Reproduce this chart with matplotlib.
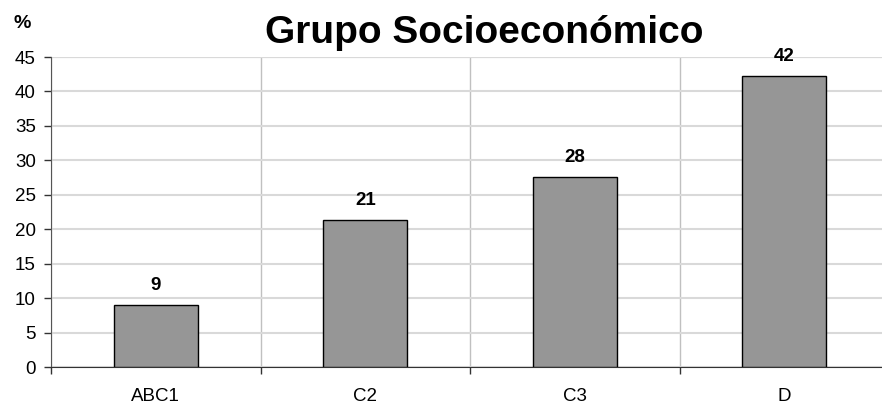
import matplotlib.pyplot as plt
import numpy as np

plt.rcParams['font.family'] = ['Liberation Sans', 'DejaVu Sans']

categories = ['ABC1', 'C2', 'C3', 'D']
values = [9.0, 21.3, 27.6, 42.2]
labels = ['9', '21', '28', '42']

W, H = 882, 407
fig = plt.figure(figsize=(W / 100, H / 100), dpi=100)
# plot area: left 51px, right 889px (slightly beyond the image), top 57, bottom 367
ax = fig.add_axes([51 / W, (H - 367) / H, (889 - 51) / W, (367 - 57) / H])

x = np.arange(len(categories))
ax.bar(x, values, width=0.4, color='#969696', edgecolor='black', linewidth=1, zorder=3)

for xi, v, lab in zip(x, values, labels):
    ax.text(xi, v + 1.6, lab, ha='center', va='bottom', fontsize=13.5, fontweight='bold')

ax.set_xlim(-0.5, 3.5)
ax.set_ylim(0, 45)
ax.set_yticks(range(0, 46, 5))
ax.set_xticks(x)
ax.set_xticklabels(categories, fontsize=13.5)
ax.set_xticks(np.arange(-0.5, 4, 1), minor=True)
ax.tick_params(axis='x', which='major', length=0, pad=15)
ax.tick_params(axis='x', which='minor', length=5, width=1, color='#333333')
ax.tick_params(axis='y', length=5, width=1, color='#333333', labelsize=13.5, pad=6)

ax.grid(axis='y', color='#d9d9d9', linewidth=1.5, zorder=0)
ax.grid(axis='x', which='minor', color='#c0c0c0', linewidth=1, zorder=0)
ax.grid(axis='x', which='major', visible=False)

for s in ['top', 'right']:
    ax.spines[s].set_visible(False)
ax.spines['left'].set_color('#555555')
ax.spines['bottom'].set_color('#333333')
ax.axhline(45, color='#c8c8c8', linewidth=1.5, zorder=1)

fig.text(484 / W, 1 - 43 / H, 'Grupo Socioeconómico', ha='center', va='baseline',
         fontsize=28, fontweight='bold')
fig.text(22 / W, 1 - 28 / H, '%', ha='center', va='baseline', fontsize=14, fontweight='bold')

fig.savefig('out.png', dpi=100)
